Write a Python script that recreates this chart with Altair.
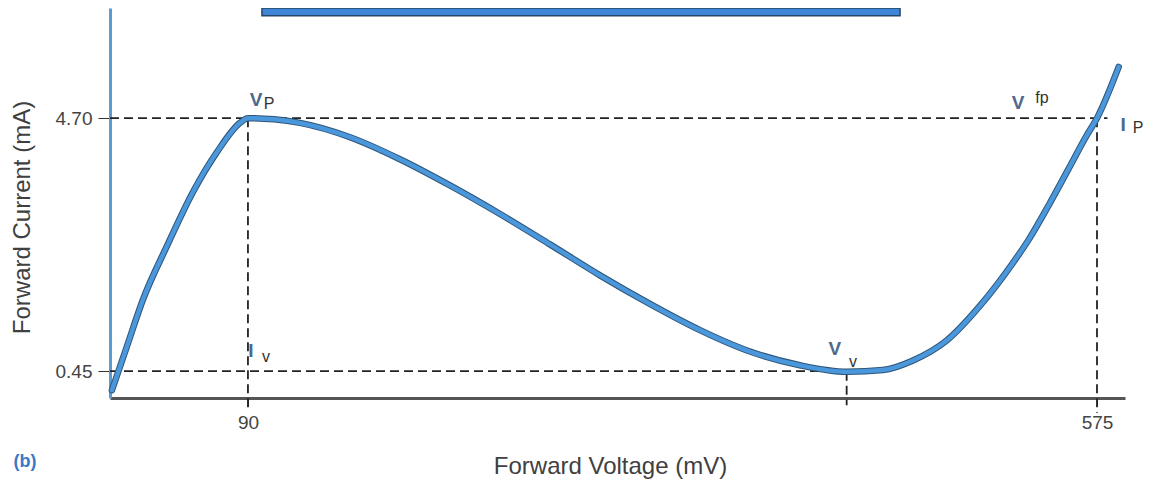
import altair as alt
import pandas as pd

# ---- curve (mV, mA) ----
voltage_mv = [12.3, 20.9, 30.0, 43.7, 58.6, 72.3, 85.4, 90.0, 105.0, 119.7, 148.3, 176.8,
              205.4, 234.0, 262.5, 291.1, 319.6, 348.2, 376.8, 405.3, 432.2, 452.8,
              469.9, 489.3, 508.2, 527.0, 536.0, 548.4, 558.6, 569.3, 575.0, 587.4]
current_ma = [0.13, 0.87, 1.65, 2.55, 3.46, 4.13, 4.62, 4.70, 4.68, 4.62, 4.38, 4.01,
              3.57, 3.09, 2.58, 2.06, 1.58, 1.14, 0.78, 0.55, 0.44, 0.47,
              0.63, 0.97, 1.55, 2.27, 2.66, 3.29, 3.84, 4.42, 4.70, 5.56]

x_ticks = [90, 575]
y_ticks = [0.45, 4.70]

# dashed guide lines (mV, mA)
guide_x = [11.2, 11.2, 90, 575, 432]
guide_x2 = [581, 433, 90, 575, 432]
guide_y = [4.70, 0.45, 4.70, 4.70, 0.44]
guide_y2 = [4.70, 0.45, -0.20, -0.25, -0.12]

# annotation letters and subscripts
label_main = ["V", "I", "V", "V", "I"]
label_main_x = [94.6, 91.7, 425.3, 529.9, 589.9]
label_main_y = [5.01, 0.79, 0.82, 4.96, 4.59]
label_sub = ["P", "v", "v", "fp", "P"]
label_sub_x = [102.0, 100.3, 435.6, 543.6, 598.4]
label_sub_y = [4.94, 0.69, 0.60, 5.04, 4.54]

panel_tag = ["(b)"]
panel_tag_x = [-37.4]
panel_tag_y = [-1.08]

banner_x = [98.0]
banner_x2 = [462.5]
banner_y = [6.42]
banner_y2 = [6.55]

X_DOMAIN = [11.2, 591.0]
Y_DOMAIN = [0, 6.55]
FONT = "Liberation Sans"

curve = pd.DataFrame({"v": voltage_mv, "i": current_ma})
guides = pd.DataFrame({"x": guide_x, "x2": guide_x2, "y": guide_y, "y2": guide_y2})
mains = pd.DataFrame({"t": label_main, "x": label_main_x, "y": label_main_y})
subs = pd.DataFrame({"t": label_sub, "x": label_sub_x, "y": label_sub_y})
tag = pd.DataFrame({"t": panel_tag, "x": panel_tag_x, "y": panel_tag_y})
banner = pd.DataFrame({"x": banner_x, "x2": banner_x2, "y": banner_y, "y2": banner_y2})

xscale = alt.Scale(domain=X_DOMAIN, nice=False, zero=False)
yscale = alt.Scale(domain=Y_DOMAIN, nice=False, zero=False)

xaxis = alt.Axis(
    values=x_ticks, title="Forward Voltage (mV)", grid=False,
    domainColor="#555555", domainWidth=3, tickColor="#333333", tickSize=8,
    labelFont=FONT, labelFontSize=19, labelColor="#444444", labelPadding=7,
    titleFont=FONT, titleFontSize=24, titleFontWeight="normal", titleColor="#404040",
    titleX=500, titleY=68, titleBaseline="middle",
)
yaxis = alt.Axis(
    values=y_ticks, format=".2f", title="Forward Current (mA)", grid=False,
    domainColor="#5b9bd5", domainWidth=3, tickColor="#333333", tickSize=12,
    labelFont=FONT, labelFontSize=19, labelColor="#444444", labelPadding=6,
    titleFont=FONT, titleFontSize=24, titleFontWeight="normal", titleColor="#404040",
    titleX=-88, titleY=209, titleBaseline="middle",
)

base_axes = alt.Chart(curve).mark_line(opacity=0).encode(
    x=alt.X("v:Q", scale=xscale, axis=xaxis),
    y=alt.Y("i:Q", scale=yscale, axis=yaxis),
)

banner_layer = alt.Chart(banner).mark_rect(color="#3f86d6", stroke="#27476a", strokeWidth=1.5).encode(
    x=alt.X("x:Q", scale=xscale), x2="x2:Q",
    y=alt.Y("y:Q", scale=yscale), y2="y2:Q",
)

guide_layer = alt.Chart(guides).mark_rule(color="#222222", strokeWidth=1.8, strokeDash=[9, 5]).encode(
    x=alt.X("x:Q", scale=xscale), x2="x2:Q",
    y=alt.Y("y:Q", scale=yscale), y2="y2:Q",
)

curve_under = alt.Chart(curve).mark_line(
    color="#2f5578", strokeWidth=6.5, interpolate="monotone", strokeCap="round"
).encode(x=alt.X("v:Q", scale=xscale), y=alt.Y("i:Q", scale=yscale))

curve_top = alt.Chart(curve).mark_line(
    color="#4a97dc", strokeWidth=4.5, interpolate="monotone", strokeCap="round"
).encode(x=alt.X("v:Q", scale=xscale), y=alt.Y("i:Q", scale=yscale))

main_text = alt.Chart(mains).mark_text(
    font=FONT, fontSize=19, fontWeight="bold", color="#4d6a8a", align="center", baseline="middle"
).encode(x=alt.X("x:Q", scale=xscale), y=alt.Y("y:Q", scale=yscale), text="t:N")

sub_text = alt.Chart(subs).mark_text(
    font=FONT, fontSize=16, color="#333333", align="center", baseline="middle"
).encode(x=alt.X("x:Q", scale=xscale), y=alt.Y("y:Q", scale=yscale), text="t:N")

tag_text = alt.Chart(tag).mark_text(
    font=FONT, fontSize=18, fontWeight="bold", color="#3a78c8", align="center", baseline="middle"
).encode(x=alt.X("x:Q", scale=xscale), y=alt.Y("y:Q", scale=yscale), text="t:N")

chart = alt.layer(
    base_axes, banner_layer, guide_layer, curve_under, curve_top, main_text, sub_text, tag_text
).properties(
    width=1015, height=390,
    padding={"left": 102, "top": 0, "right": 25, "bottom": 86},
    autosize=alt.AutoSizeParams(type="none"),
    background="white",
).configure_view(stroke=None)

chart.save("out.html", embed_options={"renderer": "svg", "actions": False})
